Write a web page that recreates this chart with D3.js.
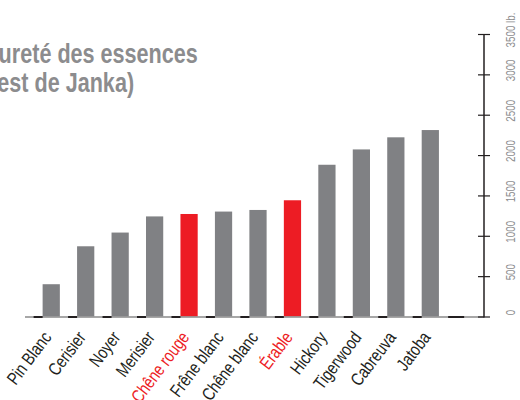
<!DOCTYPE html>
<html>
<head>
<meta charset="utf-8">
<script src="https://cdn.jsdelivr.net/npm/d3@7"></script>
<style>
  body { margin: 0; background: #fff; }
  svg { display: block; font-family: "Liberation Sans", Arial, sans-serif; }
</style>
</head>
<body>
<svg id="chart" width="520" height="400"></svg>
<script>
// data (Janka hardness, lb.)
const species = ["Pin Blanc", "Cerisier", "Noyer", "Merisier", "Chêne rouge", "Frêne blanc",
  "Chêne blanc", "Érable", "Hickory", "Tigerwood", "Cabreuva", "Jatoba"];
const hardness = [400, 870, 1040, 1240, 1270, 1300, 1320, 1440, 1880, 2070, 2220, 2310];
const highlighted = ["Chêne rouge", "Érable"];
const yTicks = [0, 500, 1000, 1500, 2000, 2500, 3000, 3500];
const titleLines = ["Dureté des essences", "(Test de Janka)"];

const svg = d3.select("#chart");

// condensed look: plain font squeezed horizontally
const squeeze = 0.8;

const slots = species.concat([""]); // last empty slot before the axis
const x = d3.scaleBand()
  .domain(slots)
  .range([34, 482])
  .paddingInner(0.5)
  .paddingOuter(0.25);

const y = d3.scaleLinear()
  .domain([0, 3500])
  .range([316.5, 34]);

// title (clipped on the left, as in the source)
const titleX = [-17, -21.5];
svg.append("g")
  .selectAll("text")
  .data(titleLines)
  .join("text")
    .attr("transform", (d, i) => `translate(${titleX[i]},${63 + i * 29}) scale(${squeeze},1)`)
    .attr("font-size", 27)
    .attr("font-weight", "bold")
    .attr("fill", "#8c8c8e")
    .text(d => d);

// bars
svg.append("g")
  .selectAll("rect")
  .data(species)
  .join("rect")
    .attr("x", d => x(d))
    .attr("width", x.bandwidth())
    .attr("y", (d, i) => y(hardness[i]))
    .attr("height", (d, i) => y(0) - y(hardness[i]))
    .attr("fill", d => highlighted.includes(d) ? "#ed1c24" : "#808184");

// baseline
svg.append("line")
  .attr("x1", 25).attr("x2", 484)
  .attr("y1", y(0) + 0.5).attr("y2", y(0) + 0.5)
  .attr("stroke", "#8a8a8a")
  .attr("stroke-width", 1.5);

svg.append("g")
  .selectAll("rect")
  .data(slots)
  .join("rect")
    .attr("x", d => d === "" ? x(d) - 8 : x(d) - 9)
    .attr("width", d => d === "" ? 16 : 9)
    .attr("y", y(0) - 0.5)
    .attr("height", 2)
    .attr("fill", "#231f20");

// right axis
const axis = d3.axisRight(y)
  .tickValues(yTicks)
  .tickSize(6)
  .tickFormat("");

const axisG = svg.append("g")
  .attr("transform", "translate(484,0)")
  .call(axis);
axisG.select(".domain").attr("stroke", "#231f20").attr("stroke-width", 1.5).attr("d", `M0,${y(3500)}V${y(0) + 1}`);
axisG.selectAll(".tick line").attr("x1", -6).attr("stroke", "#231f20").attr("stroke-width", 1.2);

svg.append("g")
  .selectAll("text")
  .data(yTicks)
  .join("text")
    .attr("transform", d => `translate(515,${y(d) - 4}) rotate(-90) scale(0.82,1)`)
    .attr("text-anchor", "middle")
    .attr("font-size", 12)
    .attr("fill", "#8c8c8e")
    .text(d => d === 3500 ? d + " lb." : d);

// category labels
svg.append("g")
  .selectAll("text")
  .data(species)
  .join("text")
    .attr("transform", d => `translate(${x(d) + x.bandwidth() / 2 + 1},${y(0) + 21}) rotate(-53) scale(${squeeze},1)`)
    .attr("text-anchor", "end")
    .attr("font-size", 18)
    .attr("fill", d => highlighted.includes(d) ? "#ed1c24" : "#231f20")
    .text(d => d);
</script>
</body>
</html>
